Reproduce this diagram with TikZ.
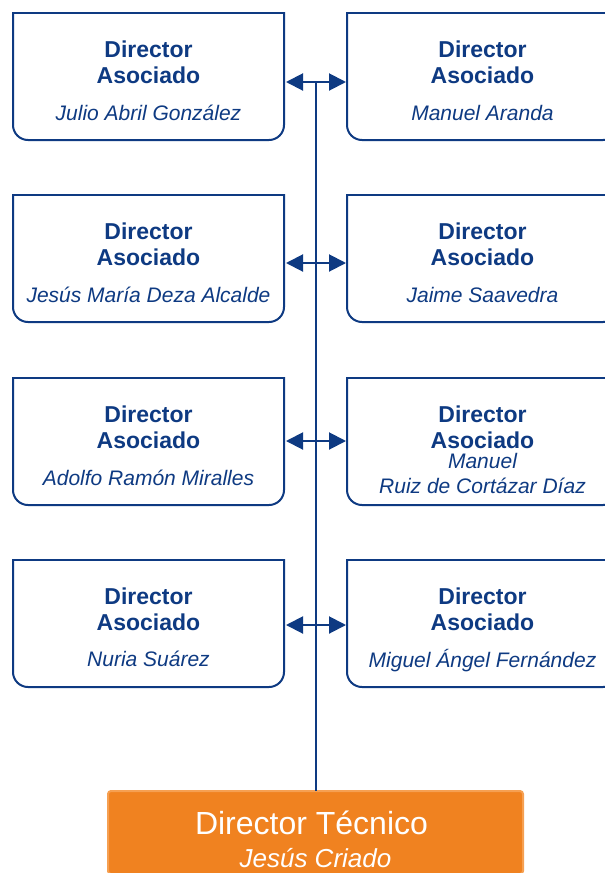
\documentclass[tikz,border=0pt]{standalone}
\usepackage{fontspec}
\setmainfont{Liberation Sans}
\usetikzlibrary{arrows.meta,calc}
\definecolor{dblue}{RGB}{14,58,130}
\definecolor{orfill}{RGB}{240,130,32}
\definecolor{orline}{RGB}{246,160,82}
\begin{document}
\begin{tikzpicture}[x=1pt,y=-1pt,
  box/.style={minimum width=271pt, minimum height=127pt, inner sep=0pt, outer sep=0pt, anchor=north west},
  outl/.style={draw=dblue, line width=2pt, line cap=rect},
  ttl/.style={anchor=base, text=dblue, font=\bfseries\fontsize{23}{26}\selectfont, inner sep=0pt},
  nm/.style={anchor=base, text=dblue, font=\itshape\fontsize{21}{24}\selectfont, inner sep=0pt},
  arr/.style={draw=dblue, line width=2pt, {Triangle[length=17pt,width=17pt]}-{Triangle[length=17pt,width=17pt]}, shorten <=2pt, shorten >=1pt},
  vline/.style={draw=dblue, line width=2pt},
  dt/.style={anchor=north west, minimum width=415pt, minimum height=83pt, inner sep=0pt, outer sep=0pt, fill=orfill, draw=orline, line width=2pt, rounded corners=3pt},
  dtt/.style={anchor=base, text=white, font=\fontsize{32}{36}\selectfont, inner sep=0pt},
  dtn/.style={anchor=base, text=white, font=\itshape\fontsize{26}{30}\selectfont, inner sep=0pt}]
\useasboundingbox (0,0) rectangle (605,873);
\clip (0,0) rectangle (605,873);
\fill[white] (0,0) rectangle (605,873);

% boxes
\node[box] (L1) at (13,13) {};
\node[box] (R1) at (347,13) {};
\node[box] (L2) at (13,195) {};
\node[box] (R2) at (347,195) {};
\node[box] (L3) at (13,378) {};
\node[box] (R3) at (347,378) {};
\node[box] (L4) at (13,560) {};
\node[box] (R4) at (347,560) {};

\foreach \n in {L1,R1,L2,R2,L3,R3,L4,R4}{
  \draw[outl, rounded corners=15pt] (\n.north west) -- (\n.south west) -- (\n.south east) -- (\n.north east);
  \draw[outl] (\n.north west) -- (\n.north east);
  \node[ttl] (\n a) at ($(\n.north)+(0,44)$) {Director};
  \node[ttl] (\n b) at ($(\n.north)+(0,70)$) {Asociado};
}

\node[nm] (L1n) at ($(L1.north)+(0,107)$) {Julio Abril González};
\node[nm] (R1n) at ($(R1.north)+(0,107)$) {Manuel Aranda};
\node[nm] (L2n) at ($(L2.north)+(0,107)$) {Jesús María Deza Alcalde};
\node[nm] (R2n) at ($(R2.north)+(0,107)$) {Jaime Saavedra};
\node[nm] (L3n) at ($(L3.north)+(0,107)$) {Adolfo Ramón Miralles};
\node[nm] (R3n) at ($(R3.north)+(0,90)$) {Manuel};
\node[nm] (R3m) at ($(R3.north)+(0,115)$) {Ruiz de Cortázar Díaz};
\node[nm] (L4n) at ($(L4.north)+(0,106)$) {Nuria Suárez};
\node[nm] (R4n) at ($(R4.north)+(0,107)$) {Miguel Ángel Fernández};

% director tecnico
\node[dt] (D) at (108,791) {};
\node[dtt] (Dt) at ($(D.north)+(-4,43)$) {Director Técnico};
\node[dtn] (Dn) at ($(D.north)+(0,76)$) {Jesús Criado};

% connectors
\coordinate (a1) at (316,82);
\coordinate (a2) at (316,263);
\coordinate (a3) at (316,441);
\coordinate (a4) at (316,625);
\draw[vline] (a1) -- (a1 |- D.north);
\draw[arr] (L1.east |- a1) -- (R1.west |- a1);
\draw[arr] (L2.east |- a2) -- (R2.west |- a2);
\draw[arr] (L3.east |- a3) -- (R3.west |- a3);
\draw[arr] (L4.east |- a4) -- (R4.west |- a4);
\end{tikzpicture}
\end{document}
